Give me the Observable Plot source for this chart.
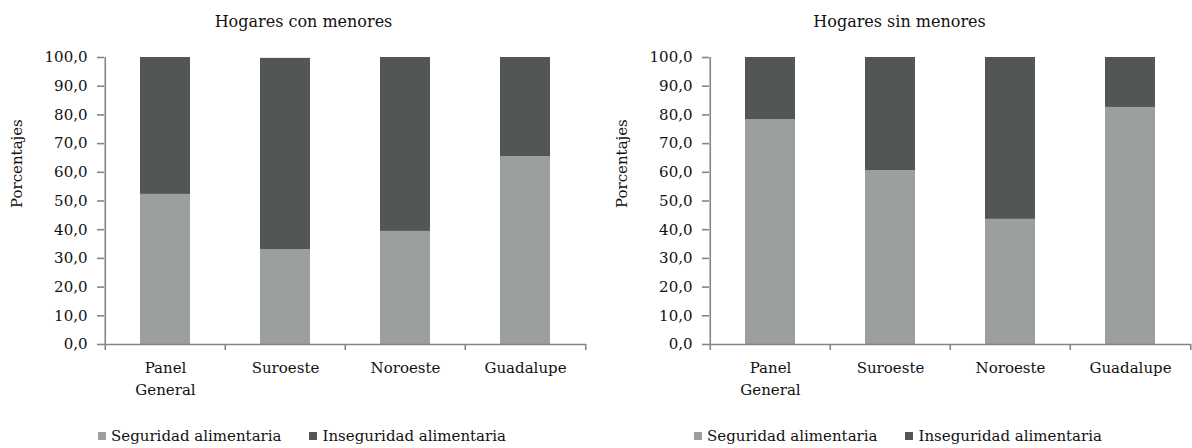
<!DOCTYPE html>
<html>
<head>
<meta charset="utf-8">
<script src="https://cdn.jsdelivr.net/npm/d3@7"></script>
<script src="https://cdn.jsdelivr.net/npm/@observablehq/plot@0.6"></script>
<style>
  html, body { margin: 0; padding: 0; background: #fff; }
  body { width: 1192px; height: 448px; overflow: hidden; font-family: "DejaVu Serif", serif; color: #111; }
  #wrap { display: flex; flex-direction: row; }
  .panel { width: 596px; display: flex; flex-direction: column; }
  .title { height: 40px; box-sizing: border-box; padding-top: 12px; padding-left: 11px; text-align: center; font-size: 16px; line-height: 20px; }
  .legend { height: 38px; display: flex; justify-content: center; align-items: center; padding-left: 8px; padding-top: 14px; box-sizing: border-box; font-size: 15px; line-height: 20px; }
  .legend .item { display: flex; align-items: center; margin: 0 14px; }
  .legend .sw { width: 8px; height: 8px; margin-right: 5px; }
  svg { display: block; }
</style>
</head>
<body>
<div id="wrap"></div>
<script>
const categories = ["Panel General", "Suroeste", "Noroeste", "Guadalupe"];
const series = ["Seguridad alimentaria", "Inseguridad alimentaria"];
const colors = ["#9b9f9f", "#525656"];
const titles = ["Hogares con menores", "Hogares sin menores"];
const seguridadCon = [52.3, 33.1, 39.4, 65.5];
const inseguridadCon = [47.7, 66.6, 60.6, 34.5];
const seguridadSin = [78.4, 60.6, 43.6, 82.6];
const inseguridadSin = [21.6, 39.4, 56.4, 17.4];
const yTicks = [0, 10, 20, 30, 40, 50, 60, 70, 80, 90, 100];

const panels = [
  {title: titles[0], seg: seguridadCon, inseg: inseguridadCon, marginLeft: 104, marginRight: 10},
  {title: titles[1], seg: seguridadSin, inseg: inseguridadSin, marginLeft: 113, marginRight: 1}
];

const axisColor = "#858585";
const wrap = document.getElementById("wrap");

for (const p of panels) {
  const data = [];
  categories.forEach((c, i) => {
    data.push({cat: c, serie: series[0], value: p.seg[i]});
    data.push({cat: c, serie: series[1], value: p.inseg[i]});
  });
  const width = 596;
  const plotW = width - p.marginLeft - p.marginRight;
  const step = plotW / categories.length;

  const chart = Plot.plot({
    width,
    height: 370,
    marginTop: 17,
    marginBottom: 66,
    marginLeft: p.marginLeft,
    marginRight: p.marginRight,
    style: {fontFamily: "DejaVu Serif, serif", fontSize: "15px", color: "#111", background: "#fff"},
    x: {domain: categories, paddingInner: 0.585, paddingOuter: 0.2925},
    y: {domain: [0, 100]},
    color: {domain: series, range: colors},
    marks: [
      Plot.barY(data, Plot.stackY({order: series, x: "cat", y: "value", fill: "serie"})),
      Plot.axisY({ticks: yTicks, tickFormat: d => d.toFixed(1).replace(".", ","), tickSize: 7, tickPadding: 10, stroke: axisColor, strokeWidth: 1.6, label: null, fontSize: 15}),
      Plot.axisX({tickSize: 0, tickPadding: 13, label: null, lineHeight: 1.45, fontSize: 15,
        tickFormat: d => d === "Panel General" ? "Panel\nGeneral" : d}),
      Plot.ruleX([categories[0]], {y1: 0, y2: 100, dx: -step / 2, stroke: axisColor, strokeWidth: 1.6}),
      Plot.ruleY([0], {stroke: axisColor, strokeWidth: 1.6}),
      Plot.ruleX(categories, {y1: 0, insetBottom: -6, dx: -step / 2, stroke: axisColor, strokeWidth: 1.6}),
      Plot.ruleX([categories[categories.length - 1]], {y1: 0, insetBottom: -6, dx: step / 2, stroke: axisColor, strokeWidth: 1.6}),
      Plot.text(["Porcentajes"], {frameAnchor: "left", rotate: -90, dx: -87, dy: 7, fontSize: 15, fill: "#111"})
    ]
  });

  const panel = document.createElement("div");
  panel.className = "panel";
  const t = document.createElement("div");
  t.className = "title";
  t.textContent = p.title;
  panel.appendChild(t);
  panel.appendChild(chart);
  const lg = document.createElement("div");
  lg.className = "legend";
  series.forEach((s, i) => {
    const it = document.createElement("div");
    it.className = "item";
    const sw = document.createElement("span");
    sw.className = "sw";
    sw.style.background = colors[i];
    const tx = document.createElement("span");
    tx.textContent = s;
    it.appendChild(sw);
    it.appendChild(tx);
    lg.appendChild(it);
  });
  panel.appendChild(lg);
  wrap.appendChild(panel);
}
</script>
</body>
</html>
